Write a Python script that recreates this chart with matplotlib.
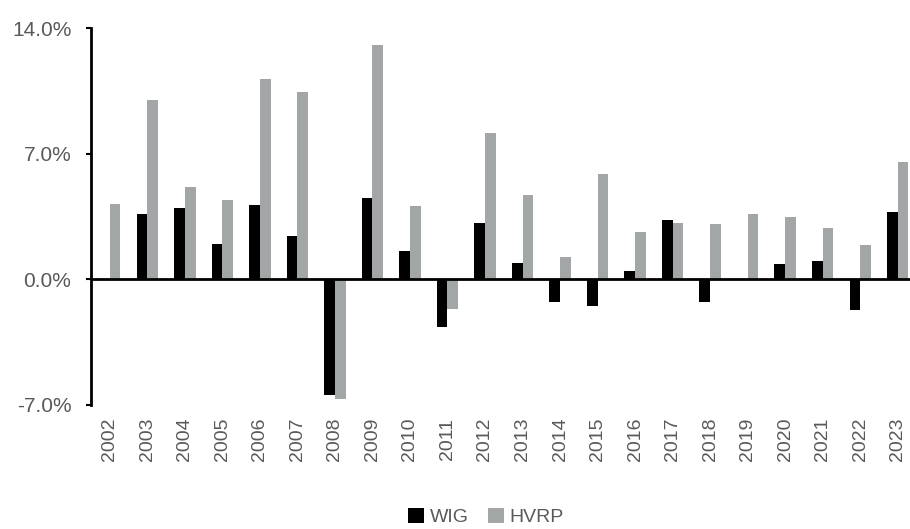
import matplotlib
matplotlib.use("Agg")
import matplotlib.pyplot as plt
import numpy as np
from matplotlib.patches import Patch

plt.rcParams['font.family'] = ['Liberation Sans', 'DejaVu Sans']

years = [str(y) for y in range(2002, 2024)]
wig = [0.0, 3.65, 3.99, 1.97, 4.17, 2.41, -6.46, 4.56, 1.60, -2.67, 3.14,
       0.93, -1.24, -1.50, 0.46, 3.34, -1.26, 0.0, 0.87, 1.00, -1.71, 3.78]
hvrp = [4.21, 10.0, 5.18, 4.42, 11.17, 10.46, -6.64, 13.06, 4.12, -1.67, 8.14,
        4.71, 1.26, 5.86, 2.67, 3.17, 3.08, 3.67, 3.49, 2.84, 1.93, 6.57]
yticks = [-7.0, 0.0, 7.0, 14.0]

text_color = '#595959'
gray = '#A3A6A6'

fig = plt.figure(figsize=(9.10, 5.29), dpi=100)
W, H = 910, 529
left, right = 91, 916.5
top, bottom = 28.3, 405
ax = fig.add_axes([left / W, 1 - bottom / H, (right - left) / W, (bottom - top) / H])

x = np.arange(len(years))
w = 0.285
ax.bar(x - w / 2, wig, width=w, color='black', zorder=2, label='WIG')
ax.bar(x + w / 2, hvrp, width=w, color=gray, zorder=2, label='HVRP')
ax.axhline(0, color='black', lw=2, zorder=3)

ax.set_xlim(-0.5, len(years) - 0.5)
ax.set_ylim(-7, 14)
ax.set_yticks(yticks)
ax.set_yticklabels([f'{v:.1f}%' for v in yticks], fontsize=15, color=text_color)
ax.set_xticks(x)
ax.set_xticklabels(years, rotation=90, fontsize=14, color=text_color)
ax.tick_params(axis='x', length=0, pad=9)
ax.tick_params(axis='y', length=3.6, width=1.5, direction='out', pad=10.5, color='black')

for s in ['top', 'right', 'bottom']:
    ax.spines[s].set_visible(False)
ax.spines['left'].set_linewidth(2)
ax.spines['left'].set_color('black')

handles = [Patch(facecolor='black', label='WIG'), Patch(facecolor=gray, label='HVRP')]
fig.legend(handles=handles, loc='center', bbox_to_anchor=(486 / W, 1 - 517 / H),
           ncol=2, frameon=False, fontsize=14, handlelength=0.8, handleheight=0.8,
           handletextpad=0.3, columnspacing=1.0, labelcolor=text_color)

fig.savefig('out.png', dpi=100)
